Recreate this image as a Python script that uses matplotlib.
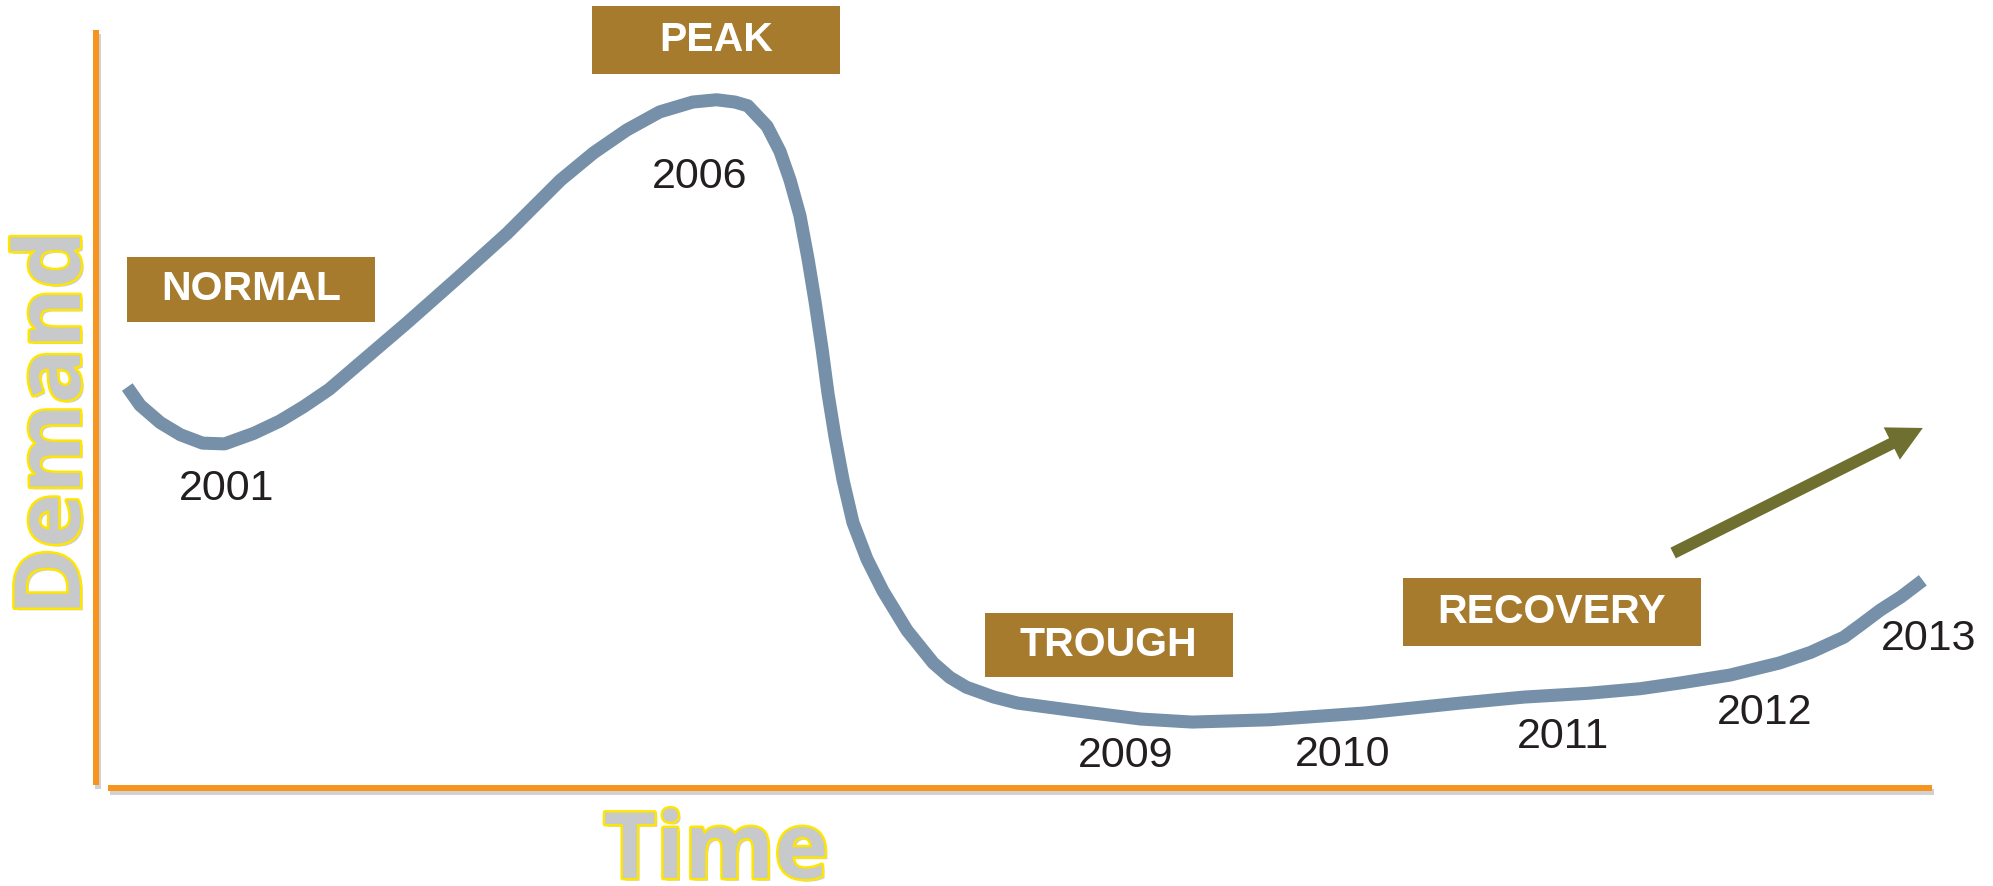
import matplotlib
import matplotlib.pyplot as plt
import matplotlib.patheffects as pe
from matplotlib.patches import Rectangle

matplotlib.use("Agg")

# demand curve, both axes on a 0-100 scale
time = [1.7, 2.4, 3.5, 4.6, 5.8, 7.0, 8.6, 10.0, 11.3, 12.7, 14.1, 16.9,
        19.7, 22.4, 25.3, 27.1, 28.9, 30.7, 32.5, 33.8, 34.8, 35.5, 36.55,
        37.25, 37.8, 38.34, 38.78, 39.16, 39.54, 39.87, 40.25, 40.69, 41.23,
        41.99, 42.86, 44.17, 45.6, 46.5, 47.4, 48.9, 50.2, 53.3, 56.9,
        59.7, 63.9, 69.1, 74.3, 77.8, 81.3, 84.1, 86.4, 89.0, 91.7, 93.4,
        95.2, 96.1, 97.2, 98.3, 99.5]
demand = [52.9, 50.5, 48.2, 46.6, 45.5, 45.4, 46.8, 48.4, 50.3, 52.6, 55.5,
          61.3, 67.3, 73.2, 80.2, 83.8, 86.8, 89.2, 90.5, 90.8, 90.5, 90.0,
          87.3, 84.0, 80.2, 75.5, 69.8, 64.2, 58.0, 52.0, 46.3, 40.6, 35.0,
          30.2, 26.0, 20.8, 16.5, 14.6, 13.3, 12.0, 11.2, 10.2, 9.1,
          8.7, 9.0, 9.9, 11.2, 12.0, 12.5, 13.1, 13.9, 14.9, 16.5, 17.9,
          19.9, 21.5, 23.5, 25.2, 27.4]

years = ["2001", "2006", "2009", "2010", "2011", "2012", "2013"]
year_time = [7.1, 32.9, 56.1, 67.9, 79.9, 90.9, 99.8]
year_demand = [39.5, 80.6, 4.2, 4.4, 6.7, 9.9, 19.7]

phases = ["NORMAL", "PEAK", "TROUGH", "RECOVERY"]
phase_left = [1.7, 27.0, 48.4, 71.2]
phase_right = [15.2, 40.5, 61.9, 87.4]
phase_bottom = [61.5, 94.2, 14.6, 18.7]
phase_top = [70.1, 103.2, 23.1, 27.7]

trend_start = (85.9, 31.0)
trend_end = (99.5, 47.5)

orange = "#F7941D"
curve_col = "#7590A8"
box_col = "#A67B2D"
arrow_col = "#6F7030"

fig = plt.figure(figsize=(19.93, 8.86), dpi=100)
ax = fig.add_axes([0.0482, 0.1106, 0.9212, 0.8555])
ax.set_xlim(0, 100)
ax.set_ylim(0, 100)
ax.set_xticks([])
ax.set_yticks([])
for side in ["top", "right"]:
    ax.spines[side].set_visible(False)

shadow = [pe.SimpleLineShadow(offset=(1.5, -3), shadow_color="#999999", alpha=0.45),
          pe.Normal()]
ax.spines["left"].set_bounds(0.4, 100)
ax.spines["bottom"].set_bounds(0.65, 100)
for side in ["left", "bottom"]:
    ax.spines[side].set_color(orange)
    ax.spines[side].set_linewidth(4.3)
    ax.spines[side].set_capstyle("butt")
    ax.spines[side].set_path_effects(shadow)

ax.plot(time, demand, color=curve_col, lw=9.4, solid_capstyle="butt",
        solid_joinstyle="round", clip_on=False)

for lbl, x, y in zip(years, year_time, year_demand):
    ax.text(x, y, lbl, ha="center", va="center", fontsize=31,
            family="Liberation Sans", color="#231F20", clip_on=False)

for name, x0, x1, y0, y1 in zip(phases, phase_left, phase_right, phase_bottom, phase_top):
    ax.add_patch(Rectangle((x0, y0), x1 - x0, y1 - y0, facecolor=box_col,
                           edgecolor="none", clip_on=False))
    ax.text((x0 + x1) / 2, (y0 + y1) / 2, name, ha="center", va="center",
            fontsize=29.5, fontweight="bold", family="Liberation Sans",
            color="white", clip_on=False)

ax.annotate("", xy=trend_end, xytext=trend_start, annotation_clip=False,
            arrowprops=dict(width=8.6, headwidth=26, headlength=25,
                            facecolor=arrow_col, edgecolor="none", shrink=0))

# outlined axis titles
outline = [pe.withSimplePatchShadow(offset=(2, -2), shadow_rgbFace="#888888", alpha=0.4),
           pe.Stroke(linewidth=3.5, foreground="#FFE600"), pe.Normal()]
fig.text(56 / 1993, 1 - 423 / 886, "Demand", rotation=90, ha="center", va="center",
         fontsize=66, fontweight="bold", family=["Open Sans", "DejaVu Sans"],
         color="#C8C9CA", path_effects=outline)
fig.text(716 / 1993, 1 - 878 / 886, "Time", ha="center", va="baseline",
         fontsize=66, fontweight="bold", family=["Open Sans", "DejaVu Sans"],
         color="#C8C9CA", path_effects=outline)

fig.savefig("out.png", dpi=100)
